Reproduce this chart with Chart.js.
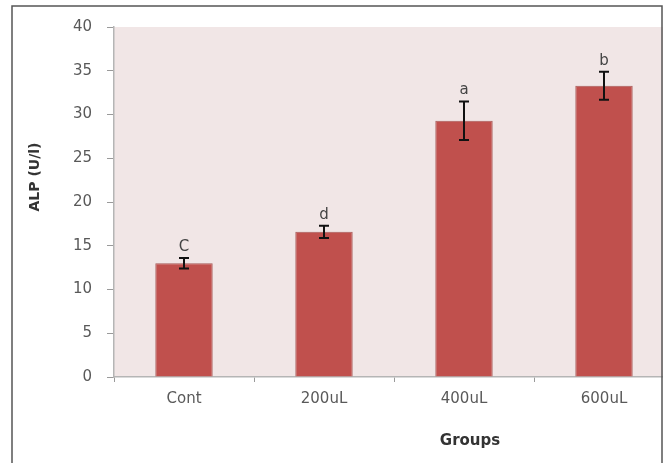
<!DOCTYPE html>
<html>
<head>
<meta charset="utf-8">
<script src="https://cdn.jsdelivr.net/npm/chart.js@4/dist/chart.umd.min.js"></script>
<style>
  html, body { margin: 0; padding: 0; background: #ffffff; }
  #frame { width: 663px; height: 463px; overflow: hidden; position: relative; background: #ffffff; }
  #chart { position: absolute; left: 0; top: 0; }
</style>
</head>
<body>
<div id="frame"><canvas id="chart" width="680" height="463"></canvas></div>
<script>
// Serum ALP activity by treatment group (mean ± SE) with significance letters
const groups = ['Cont', '200uL', '400uL', '600uL'];
const alpMeans = [13.0, 16.6, 29.3, 33.3];
const alpErrors = [0.6, 0.7, 2.2, 1.6];
const sigLetters = ['C', 'd', 'a', 'b'];
const yTicks = [0, 5, 10, 15, 20, 25, 30, 35, 40];

const TEXT = '#595959';

// Pale plot-area fill
const plotBackground = {
  id: 'plotBackground',
  beforeDraw(chart) {
    const { ctx, chartArea: a } = chart;
    ctx.save();
    ctx.fillStyle = '#f1e6e6';
    ctx.fillRect(a.left, a.top, a.right - a.left, a.bottom - a.top);
    ctx.restore();
  }
};

// Error bars and significance letters above each bar
const errorBars = {
  id: 'errorBars',
  afterDatasetsDraw(chart) {
    const { ctx } = chart;
    const y = chart.scales.y;
    const meta = chart.getDatasetMeta(0);
    ctx.save();
    meta.data.forEach((bar, i) => {
      const cx = bar.x;
      const hi = y.getPixelForValue(alpMeans[i] + alpErrors[i]);
      const lo = y.getPixelForValue(alpMeans[i] - alpErrors[i]);
      ctx.strokeStyle = '#111111';
      ctx.lineWidth = 2;
      ctx.beginPath();
      ctx.moveTo(cx, hi); ctx.lineTo(cx, lo);
      ctx.moveTo(cx - 5, hi); ctx.lineTo(cx + 5, hi);
      ctx.moveTo(cx - 5, lo); ctx.lineTo(cx + 5, lo);
      ctx.stroke();
      ctx.fillStyle = '#444444';
      ctx.font = '15px "DejaVu Sans"';
      ctx.textAlign = 'center';
      ctx.textBaseline = 'alphabetic';
      ctx.fillText(sigLetters[i], cx, hi - 7);
    });
    ctx.restore();
  }
};

// Axis titles and the outer frame
const decorations = {
  id: 'decorations',
  afterDraw(chart) {
    const { ctx, chartArea: a } = chart;
    ctx.save();
    ctx.fillStyle = '#333333';
    ctx.textAlign = 'center';
    ctx.textBaseline = 'middle';

    ctx.font = 'bold 14px "DejaVu Sans"';
    ctx.translate(35, (a.top + a.bottom) / 2 - 25);
    ctx.rotate(-Math.PI / 2);
    ctx.fillText('ALP (U/l)', 0, 0);
    ctx.setTransform(1, 0, 0, 1, 0, 0);

    ctx.font = 'bold 15px "DejaVu Sans"';
    ctx.fillText('Groups', 470, 441);

    ctx.strokeStyle = '#555555';
    ctx.lineWidth = 1.5;
    ctx.beginPath();
    ctx.moveTo(12, 463); ctx.lineTo(12, 6); ctx.lineTo(662, 6); ctx.lineTo(662, 463);
    ctx.stroke();
    ctx.restore();
  }
};

new Chart(document.getElementById('chart'), {
  type: 'bar',
  data: {
    labels: groups,
    datasets: [{
      data: alpMeans,
      backgroundColor: '#c0504d',
      borderColor: 'rgba(150,55,52,0.8)',
      borderWidth: 1,
      barPercentage: 0.41,
      categoryPercentage: 1.0
    }]
  },
  options: {
    responsive: false,
    devicePixelRatio: 1,
    animation: false,
    layout: { padding: { top: 27, right: 6, bottom: 0, left: 0 } },
    plugins: { legend: { display: false }, tooltip: { enabled: false } },
    scales: {
      x: {
        offset: true,
        grid: { offset: true, drawOnChartArea: false, drawTicks: true, tickLength: 5, color: '#9a9a9a' },
        border: { color: '#b5b5b5', width: 1.5 },
        ticks: { color: TEXT, font: { family: 'DejaVu Sans', size: 15 }, padding: 8, maxRotation: 0 },
        afterFit(scale) { scale.height = 86; }
      },
      y: {
        min: 0,
        max: 40,
        afterBuildTicks(scale) { scale.ticks = yTicks.map(v => ({ value: v })); },
        grid: { drawOnChartArea: false, drawTicks: true, tickLength: 7, color: '#9a9a9a' },
        border: { color: '#b5b5b5', width: 1.5 },
        ticks: { color: TEXT, font: { family: 'DejaVu Sans', size: 15 }, padding: 15 },
        afterFit(scale) { scale.width = 114; }
      }
    }
  },
  plugins: [plotBackground, errorBars, decorations]
});
</script>
</body>
</html>
